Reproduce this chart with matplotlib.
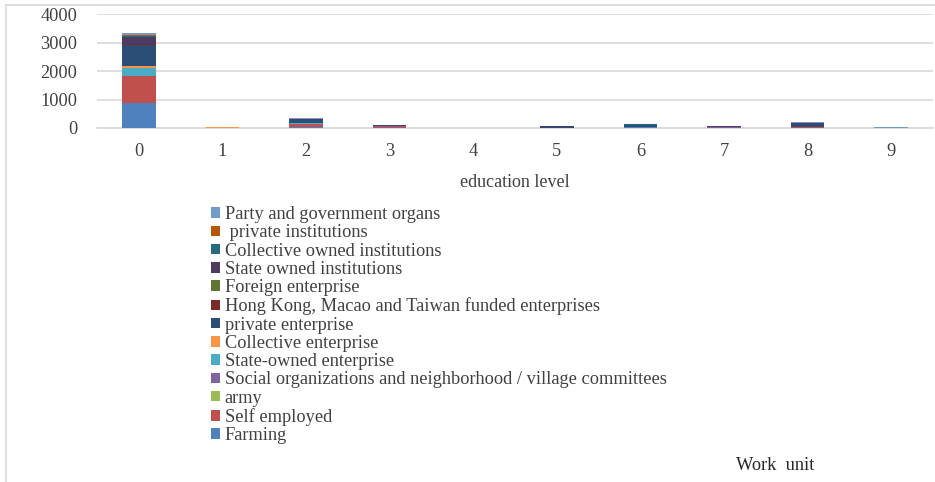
import numpy as np
import matplotlib.pyplot as plt
from matplotlib.lines import Line2D

plt.rcParams['font.family'] = ['Liberation Serif', 'DejaVu Serif']

# education level categories
levels = ['0', '1', '2', '3', '4', '5', '6', '7', '8', '9']

# work unit series, bottom of stack first
farming = [870, 5, 30, 10, 0, 10, 20, 10, 0, 0]
self_employed = [960, 5, 100, 40, 0, 0, 0, 0, 20, 0]
army = [10, 0, 0, 0, 0, 0, 0, 0, 0, 0]
social_org = [10, 0, 0, 5, 0, 5, 0, 10, 0, 0]
state_owned_ent = [270, 0, 40, 0, 0, 0, 30, 0, 0, 0]
collective_ent = [70, 40, 0, 10, 0, 0, 0, 0, 20, 0]
private_ent = [740, 0, 100, 20, 0, 20, 50, 10, 100, 0]
hk_macao_taiwan = [15, 0, 0, 0, 0, 0, 0, 0, 0, 0]
foreign_ent = [25, 0, 0, 0, 0, 0, 0, 0, 0, 0]
state_owned_inst = [230, 0, 30, 20, 0, 30, 0, 30, 40, 0]
collective_inst = [40, 0, 30, 0, 0, 0, 40, 0, 0, 0]
private_inst = [30, 0, 0, 0, 0, 0, 0, 0, 0, 0]
party_gov = [80, 0, 20, 0, 0, 10, 10, 0, 30, 30]

series = [
    ('Farming', farming, '#4F81BD'),
    ('Self employed', self_employed, '#C0504D'),
    ('army', army, '#9BBB59'),
    ('Social organizations and neighborhood / village committees', social_org, '#8064A2'),
    ('State-owned enterprise', state_owned_ent, '#4BACC6'),
    ('Collective enterprise', collective_ent, '#F79646'),
    ('private enterprise', private_ent, '#2C4D75'),
    ('Hong Kong, Macao and Taiwan funded enterprises', hk_macao_taiwan, '#772C2A'),
    ('Foreign enterprise', foreign_ent, '#5F7530'),
    ('State owned institutions', state_owned_inst, '#4D3B62'),
    ('Collective owned institutions', collective_inst, '#276A7C'),
    (' private institutions', private_inst, '#B65708'),
    ('Party and government organs', party_gov, '#729ACA'),
]

fig = plt.figure(figsize=(9.35, 4.82), dpi=100)
ax = fig.add_axes([97 / 935, 1 - 128 / 482, 836 / 935, 113.5 / 482])

x = np.arange(len(levels))
bottom = np.zeros(len(levels))
handles = []
for name, vals, color in series:
    vals = np.array(vals, dtype=float)
    b = ax.bar(x, vals, width=0.4, bottom=bottom, color=color, label=name, zorder=3)
    handles.append(b)
    bottom += vals

ax.set_xlim(-0.5, len(levels) - 0.5)
ax.set_ylim(0, 4000)
ax.set_yticks([0, 1000, 2000, 3000, 4000])
ax.set_xticks(x)
ax.set_xticklabels(levels)
ax.yaxis.grid(True, color='#D9D9D9', linewidth=1.2, zorder=0)
for side in ['top', 'right', 'left']:
    ax.spines[side].set_visible(False)
ax.spines['bottom'].set_color('#D9D9D9')
ax.spines['bottom'].set_linewidth(1.2)
ax.tick_params(axis='both', length=0, labelsize=13.2, colors='#404040')
ax.tick_params(axis='x', pad=11)
ax.tick_params(axis='y', pad=14)
ax.set_xlabel('education level', fontsize=13, color='#404040', labelpad=10)

leg = fig.legend(handles[::-1], [s[0] for s in series][::-1],
                 loc='upper left', bbox_to_anchor=(211 / 935, 1 - 206 / 482),
                 frameon=False, fontsize=13.2, handlelength=0.5, handleheight=0.5,
                 handletextpad=0.25, labelspacing=0.07, borderaxespad=0, borderpad=0)
for t in leg.get_texts():
    t.set_color('#404040')

fig.text(775 / 935, 1 - 465 / 482, 'Work  unit', fontsize=13.2, color='#262626',
         ha='center', va='center')

# light frame around the chart
fig.add_artist(Line2D([6 / 935, 6 / 935], [0, 1 - 5 / 482], transform=fig.transFigure,
                      color='#D9D9D9', linewidth=1.2))
fig.add_artist(Line2D([6 / 935, 1], [1 - 5 / 482, 1 - 5 / 482], transform=fig.transFigure,
                      color='#D9D9D9', linewidth=1.2))

fig.savefig('out.png', dpi=100)
